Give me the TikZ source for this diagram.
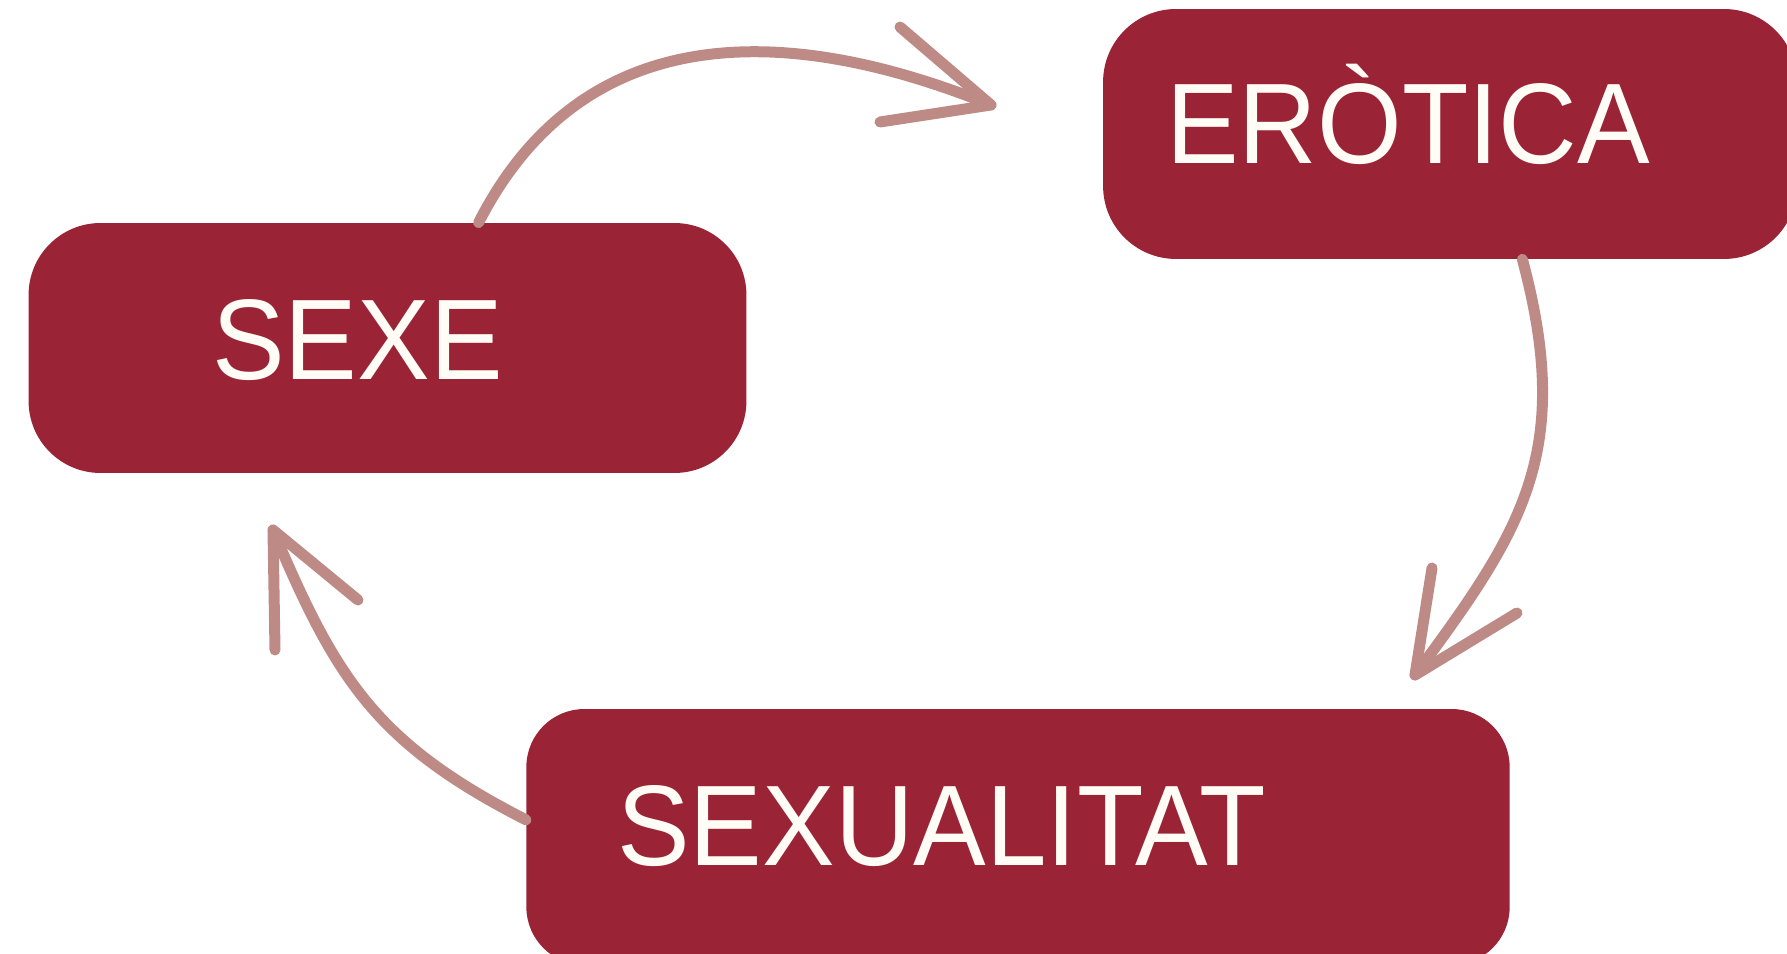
\documentclass[tikz,border=0pt]{standalone}
\usepackage{fontspec}
\setmainfont{Liberation Sans}

\definecolor{wine}{RGB}{155,35,54}
\definecolor{chalk}{RGB}{190,138,134}
\definecolor{cream}{RGB}{255,253,245}

\tikzset{
  box/.style={fill=wine, rounded corners=#1, inner sep=0pt},
  lbl/.style={text=cream, inner sep=0pt, anchor=base west,
    xscale=0.95, transform shape,
    font=\fontsize{65.2}{72}\selectfont},
  arr/.style={draw=chalk, line width=0.22cm, line cap=round, line join=round}
}

\begin{document}
\begin{tikzpicture}[x=0.02cm,y=0.02cm]
  \useasboundingbox (0,0) rectangle (1787,953);

  % the three boxes
  \node[box=1.44cm, minimum width=14.36cm, minimum height=5cm] (sexe) at (387.5,605) {};
  \node[box=1.46cm, minimum width=13.88cm, minimum height=5cm] (erotica) at (1450,819) {};
  \node[box=1.16cm, minimum width=19.67cm, minimum height=5.12cm] (sexualitat) at (1018,116) {};

  % texts, left aligned inside the boxes
  \node[lbl] (sexetxt) at (212,573) {SEXE};
  \node[lbl] (eroticatxt) at (1166,789) {ERÒTICA};
  \node[lbl] (sexualitattxt) at (617,88) {SEXUALITAT};

  % free ends of the arrows
  \coordinate (tipa) at (991,848);
  \coordinate (tipb) at (1415,278);
  \coordinate (tipc) at (273,423);

  % sexe -> erotica
  \draw[arr] (sexe.54) .. controls +(63:210) and +(158:250) .. (tipa);
  \draw[arr] (900,926) -- (tipa) -- (880,831);
  % erotica -> sexualitat
  \draw[arr] (erotica.-60) .. controls +(-75:200) and +(53.5:180) .. (tipb);
  \draw[arr] (1432,385) -- (tipb) -- (1517,340);
  % sexualitat -> sexe
  \draw[arr] (sexualitat.178) .. controls +(153:170) and +(-67:160) .. (tipc);
  \draw[arr] (275,303) -- (tipc) -- (358,353);
\end{tikzpicture}
\end{document}
